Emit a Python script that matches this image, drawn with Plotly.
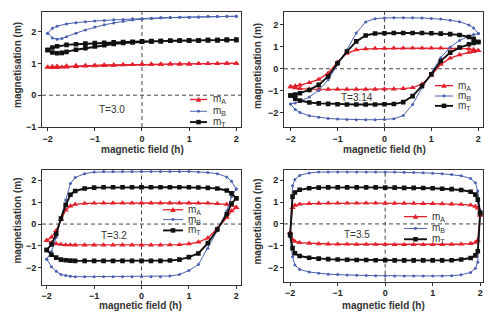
import plotly.graph_objects as go

# Each loop is stored as two field sweeps: "down" runs h = +2 -> -2, "up" runs h = -2 -> +2.

# ---------------- T = 3.0 ----------------
h30_down = [2.0, 1.8, 1.6, 1.4, 1.2, 1.0, 0.8, 0.6, 0.4, 0.2, 0.0, -0.2, -0.4, -0.6, -0.8,
            -1.0, -1.2, -1.4, -1.6, -1.8, -1.9, -2.0]
mA30_down = [1.0, 1.0, 0.99, 0.99, 0.99, 0.98, 0.98, 0.98, 0.97, 0.97, 0.97, 0.96, 0.96, 0.95,
             0.95, 0.94, 0.93, 0.93, 0.92, 0.91, 0.9, 0.88]
mB30_down = [2.48, 2.48, 2.47, 2.47, 2.46, 2.45, 2.45, 2.44, 2.43, 2.42, 2.41, 2.4, 2.38, 2.37,
             2.35, 2.33, 2.31, 2.28, 2.24, 2.17, 2.1, 1.95]
mT30_down = [1.74, 1.74, 1.73, 1.73, 1.72, 1.72, 1.71, 1.71, 1.7, 1.7, 1.69, 1.68, 1.67, 1.66,
             1.65, 1.64, 1.62, 1.6, 1.58, 1.54, 1.5, 1.42]
h30_up = [-2.0, -1.9, -1.8, -1.7, -1.6, -1.4, -1.2, -1.0, -0.8, -0.6, -0.4, -0.2, 0.0, 0.2, 0.4,
          0.6, 0.8, 1.0, 1.2, 1.4, 1.6, 1.8, 2.0]
mA30_up = [0.88, 0.87, 0.87, 0.88, 0.88, 0.9, 0.91, 0.92, 0.93, 0.94, 0.95, 0.96, 0.97, 0.97,
           0.97, 0.98, 0.98, 0.98, 0.99, 0.99, 0.99, 1.0, 1.0]
mB30_up = [1.95, 1.8, 1.76, 1.78, 1.84, 1.95, 2.05, 2.14, 2.21, 2.27, 2.32, 2.36, 2.39, 2.41,
           2.43, 2.44, 2.45, 2.45, 2.46, 2.47, 2.47, 2.48, 2.48]
mT30_up = [1.42, 1.34, 1.32, 1.33, 1.36, 1.43, 1.48, 1.53, 1.57, 1.61, 1.64, 1.66, 1.68, 1.69,
           1.7, 1.71, 1.72, 1.72, 1.72, 1.73, 1.73, 1.74, 1.74]

# ---------------- T = 3.14 ----------------
h314_down = [2.0, 1.9, 1.8, 1.6, 1.4, 1.2, 1.0, 0.8, 0.6, 0.4, 0.2, 0.0, -0.2, -0.4, -0.6, -0.8,
             -1.0, -1.2, -1.4, -1.6, -1.8, -1.9, -2.0]
mA314_down = [0.82, 0.87, 0.9, 0.92, 0.93, 0.93, 0.93, 0.93, 0.93, 0.93, 0.93, 0.92, 0.92, 0.9,
              0.86, 0.7, 0.3, -0.2, -0.48, -0.63, -0.74, -0.78, -0.82]
mB314_down = [1.6, 1.85, 1.98, 2.13, 2.2, 2.25, 2.28, 2.3, 2.31, 2.31, 2.31, 2.3, 2.27, 2.12,
              1.62, 0.85, 0.2, -0.5, -0.98, -1.28, -1.48, -1.55, -1.6]
mT314_down = [1.21, 1.36, 1.44, 1.53, 1.57, 1.59, 1.61, 1.62, 1.62, 1.62, 1.62, 1.61, 1.6, 1.51,
              1.24, 0.78, 0.25, -0.35, -0.73, -0.96, -1.11, -1.17, -1.21]
h314_up = [-2.0, -1.9, -1.8, -1.6, -1.4, -1.2, -1.0, -0.8, -0.6, -0.4, -0.2, 0.0, 0.2, 0.4, 0.6,
           0.8, 1.0, 1.2, 1.4, 1.6, 1.8, 1.9, 2.0]
mA314_up = [-0.82, -0.87, -0.9, -0.92, -0.93, -0.93, -0.93, -0.93, -0.93, -0.93, -0.93, -0.92,
            -0.92, -0.9, -0.86, -0.7, -0.3, 0.2, 0.48, 0.63, 0.74, 0.78, 0.82]
mB314_up = [-1.6, -1.85, -1.98, -2.13, -2.2, -2.25, -2.28, -2.3, -2.31, -2.31, -2.31, -2.3,
            -2.27, -2.12, -1.62, -0.85, -0.2, 0.5, 0.98, 1.28, 1.48, 1.55, 1.6]
mT314_up = [-1.21, -1.36, -1.44, -1.53, -1.57, -1.59, -1.61, -1.62, -1.62, -1.62, -1.62, -1.61,
            -1.6, -1.51, -1.24, -0.78, -0.25, 0.35, 0.73, 0.96, 1.11, 1.17, 1.21]

# ---------------- T = 3.2 ----------------
h32_down = [2.0, 1.9, 1.8, 1.6, 1.4, 1.2, 1.0, 0.8, 0.6, 0.4, 0.2, 0.0, -0.2, -0.4, -0.6, -0.8,
            -1.0, -1.2, -1.4, -1.5, -1.6, -1.7, -1.8, -1.9, -2.0]
mA32_down = [0.75, 0.85, 0.9, 0.93, 0.95, 0.95, 0.96, 0.96, 0.96, 0.96, 0.96, 0.96, 0.96, 0.96,
             0.96, 0.96, 0.95, 0.94, 0.9, 0.82, 0.64, 0.2, -0.3, -0.6, -0.75]
mB32_down = [1.6, 1.95, 2.15, 2.3, 2.35, 2.38, 2.4, 2.4, 2.4, 2.4, 2.4, 2.4, 2.4, 2.4, 2.4, 2.4,
             2.37, 2.3, 2.12, 1.85, 1.1, 0.3, -0.6, -1.25, -1.6]
mT32_down = [1.18, 1.4, 1.53, 1.62, 1.65, 1.67, 1.68, 1.68, 1.68, 1.68, 1.68, 1.68, 1.68, 1.68,
             1.68, 1.68, 1.66, 1.62, 1.51, 1.34, 0.87, 0.25, -0.45, -0.93, -1.18]
h32_up = [-2.0, -1.9, -1.8, -1.7, -1.6, -1.5, -1.4, -1.2, -1.0, -0.8, -0.6, -0.4, -0.2, 0.0, 0.2,
          0.4, 0.6, 0.8, 1.0, 1.2, 1.4, 1.6, 1.8, 1.9, 2.0]
mA32_up = [-0.75, -0.85, -0.9, -0.93, -0.95, -0.95, -0.96, -0.96, -0.96, -0.96, -0.96, -0.96,
           -0.96, -0.96, -0.96, -0.96, -0.95, -0.94, -0.9, -0.82, -0.64, -0.2, 0.3, 0.6, 0.75]
mB32_up = [-1.6, -1.95, -2.15, -2.3, -2.35, -2.38, -2.4, -2.4, -2.4, -2.4, -2.4, -2.4, -2.4,
           -2.4, -2.4, -2.4, -2.37, -2.3, -2.12, -1.85, -1.1, -0.3, 0.6, 1.25, 1.6]
mT32_up = [-1.18, -1.4, -1.53, -1.62, -1.65, -1.67, -1.68, -1.68, -1.68, -1.68, -1.68, -1.68,
           -1.68, -1.68, -1.68, -1.68, -1.66, -1.62, -1.51, -1.34, -0.87, -0.25, 0.45, 0.93, 1.18]

# ---------------- T = 3.5 ----------------
h35_down = [2.0, 1.95, 1.9, 1.8, 1.6, 1.4, 1.2, 1.0, 0.8, 0.6, 0.4, 0.2, 0.0, -0.2, -0.4, -0.6,
            -0.8, -1.0, -1.2, -1.4, -1.6, -1.8, -1.9, -1.95, -2.0]
mA35_down = [0.4, 0.72, 0.8, 0.86, 0.89, 0.91, 0.92, 0.93, 0.93, 0.94, 0.94, 0.94, 0.94, 0.95,
             0.95, 0.95, 0.95, 0.95, 0.95, 0.94, 0.93, 0.9, 0.85, 0.75, -0.4]
mB35_down = [0.6, 1.5, 1.88, 2.08, 2.2, 2.26, 2.3, 2.32, 2.34, 2.35, 2.36, 2.37, 2.37, 2.38,
             2.38, 2.38, 2.38, 2.38, 2.38, 2.37, 2.33, 2.22, 2.03, 1.75, -0.6]
mT35_down = [0.5, 1.11, 1.34, 1.47, 1.55, 1.59, 1.61, 1.63, 1.64, 1.65, 1.65, 1.66, 1.66, 1.67,
             1.67, 1.67, 1.67, 1.67, 1.67, 1.66, 1.63, 1.56, 1.44, 1.25, -0.5]
h35_up = [-2.0, -1.95, -1.9, -1.8, -1.6, -1.4, -1.2, -1.0, -0.8, -0.6, -0.4, -0.2, 0.0, 0.2, 0.4,
          0.6, 0.8, 1.0, 1.2, 1.4, 1.6, 1.8, 1.9, 1.95, 2.0]
mA35_up = [-0.4, -0.72, -0.8, -0.86, -0.89, -0.91, -0.92, -0.93, -0.93, -0.94, -0.94, -0.94,
           -0.94, -0.95, -0.95, -0.95, -0.95, -0.95, -0.95, -0.94, -0.93, -0.9, -0.85, -0.75, 0.4]
mB35_up = [-0.6, -1.5, -1.88, -2.08, -2.2, -2.26, -2.3, -2.32, -2.34, -2.35, -2.36, -2.37,
           -2.37, -2.38, -2.38, -2.38, -2.38, -2.38, -2.38, -2.37, -2.33, -2.22, -2.03, -1.75, 0.6]
mT35_up = [-0.5, -1.11, -1.34, -1.47, -1.55, -1.59, -1.61, -1.63, -1.64, -1.65, -1.65, -1.66,
           -1.66, -1.67, -1.67, -1.67, -1.67, -1.67, -1.67, -1.66, -1.63, -1.56, -1.44, -1.25, 0.5]

temperature_labels = ["T=3.0", "T=3.14", "T=3.2", "T=3.5"]
series_names = ["m<sub>A</sub>", "m<sub>B</sub>", "m<sub>T</sub>"]
x_ticks = [-2, -1, 0, 1, 2]
y_ticks_first = [-1, 0, 1, 2]
y_ticks_other = [-2, -1, 0, 1, 2]

panels = [
    dict(h=(h30_down, h30_up), m=((mA30_down, mA30_up), (mB30_down, mB30_up), (mT30_down, mT30_up))),
    dict(h=(h314_down, h314_up), m=((mA314_down, mA314_up), (mB314_down, mB314_up), (mT314_down, mT314_up))),
    dict(h=(h32_down, h32_up), m=((mA32_down, mA32_up), (mB32_down, mB32_up), (mT32_down, mT32_up))),
    dict(h=(h35_down, h35_up), m=((mA35_down, mA35_up), (mB35_down, mB35_up), (mT35_down, mT35_up))),
]

# ---------------- styling / layout ----------------
W, H = 500, 326
FONT = "Arial, 'Liberation Sans', sans-serif"
RED, BLUE, BLACK = "#e3202b", "#4a62b0", "#111111"
styles = [
    dict(color=RED, width=1.3, symbol="triangle-up", size=5.5),
    dict(color=BLUE, width=1.0, symbol="circle", size=3),
    dict(color=BLACK, width=1.9, symbol="square", size=4.6),
]

def fx(p):
    return p / W

def fy(p):
    return 1 - p / H

# plot boxes in pixels: (left, right, top, bottom)
boxes = [(42, 241, 12, 129), (284, 483, 12, 129), (42, 241, 173, 289), (284, 483, 173, 286)]
x_ranges = [[-2.12, 2.1], [-2.14, 2.1], [-2.1, 2.1], [-2.13, 2.06]]
y_ranges = [[-1.0, 2.62], [-2.64, 2.58], [-2.76, 2.45], [-2.64, 2.45]]
xtitle_pos = [(142, 152), (384, 152), (140, 310), (383, 310)]
ytitle_pos = [(18, 66), (258, 67), (18, 224), (258, 225)]
tlabel_pos = [(112, 111), (357, 99), (114, 239), (357, 238)]
legend_spots = [
    dict(x0=190, x1=207, xt=211, rows=[101, 113, 124]),
    dict(x0=435, x1=453, xt=456, rows=[87, 97.5, 107.5]),
    dict(x0=163, x1=183, xt=186, rows=[213, 223, 234]),
    dict(x0=404, x1=427, xt=430, rows=[220, 232, 243]),
]

fig = go.Figure()
layout = dict(
    width=W, height=H, margin=dict(l=0, r=0, t=0, b=0),
    paper_bgcolor="white", plot_bgcolor="white", showlegend=False,
    font=dict(family=FONT, color="#222"),
)
shapes, annotations = [], []

for i, panel in enumerate(panels):
    n = "" if i == 0 else str(i + 1)
    xa, ya = "x" + n, "y" + n
    h_down, h_up = panel["h"]
    for (m_down, m_up), st, name in zip(panel["m"], styles, series_names):
        fig.add_trace(go.Scatter(
            x=h_down + h_up, y=m_down + m_up, mode="lines+markers", name=name,
            xaxis=xa, yaxis=ya,
            line=dict(color=st["color"], width=st["width"]),
            marker=dict(symbol=st["symbol"], size=st["size"], color=st["color"], line=dict(width=0)),
        ))
    left, right, top, bottom = boxes[i]
    axis_common = dict(
        showline=True, mirror=True, linecolor="#333", linewidth=1,
        ticks="outside", ticklen=3, tickcolor="#333", tickwidth=1,
        showgrid=False, zeroline=False,
        tickfont=dict(family=FONT, size=9, color="#222", weight="bold"),
    )
    layout["xaxis" + n] = dict(axis_common, domain=[fx(left), fx(right)], range=x_ranges[i],
                               tickvals=x_ticks, anchor=ya)
    layout["yaxis" + n] = dict(axis_common, domain=[fy(bottom), fy(top)], range=y_ranges[i],
                               tickvals=y_ticks_first if i == 0 else y_ticks_other, anchor=xa)

    # dashed guide lines through the origin
    dash = dict(color="#444", width=1, dash="4px,3px")
    shapes.append(dict(type="line", xref=xa, yref=ya + " domain", x0=0, x1=0, y0=0, y1=1,
                       line=dash, layer="below"))
    shapes.append(dict(type="line", xref=xa + " domain", yref=ya, x0=0, x1=1, y0=0, y1=0,
                       line=dash, layer="below"))

    # axis titles and temperature label
    annotations.append(dict(text="<b>magnetic field (h)</b>", xref="paper", yref="paper",
                            x=fx(xtitle_pos[i][0]), y=fy(xtitle_pos[i][1]), showarrow=False,
                            xanchor="center", yanchor="middle",
                            font=dict(family=FONT, size=10, color="#333")))
    annotations.append(dict(text="<b>magnetisation (m)</b>", xref="paper", yref="paper",
                            x=fx(ytitle_pos[i][0]), y=fy(ytitle_pos[i][1]), showarrow=False,
                            textangle=-90, xanchor="center", yanchor="middle",
                            font=dict(family=FONT, size=10, color="#333")))
    annotations.append(dict(text=temperature_labels[i], xref="paper", yref="paper",
                            x=fx(tlabel_pos[i][0]), y=fy(tlabel_pos[i][1]), showarrow=False,
                            xanchor="center", yanchor="middle",
                            font=dict(family=FONT, size=10, color="#333")))

    # legend keys
    spot = legend_spots[i]
    for st, name, row in zip(styles, series_names, spot["rows"]):
        shapes.append(dict(type="line", xref="paper", yref="paper",
                           x0=fx(spot["x0"]), x1=fx(spot["x1"]), y0=fy(row), y1=fy(row),
                           line=dict(color=st["color"], width=st["width"])))
        cx = (spot["x0"] + spot["x1"]) / 2
        if st["symbol"] == "triangle-up":
            path = "M {:.4f},{:.4f} L {:.4f},{:.4f} L {:.4f},{:.4f} Z".format(
                fx(cx - 2.8), fy(row + 2.2), fx(cx + 2.8), fy(row + 2.2), fx(cx), fy(row - 2.8))
            shapes.append(dict(type="path", xref="paper", yref="paper", path=path,
                               fillcolor=st["color"], line=dict(width=0)))
        elif st["symbol"] == "square":
            shapes.append(dict(type="rect", xref="paper", yref="paper",
                               x0=fx(cx - 2.3), x1=fx(cx + 2.3), y0=fy(row + 2.3), y1=fy(row - 2.3),
                               fillcolor=st["color"], line=dict(width=0)))
        else:
            shapes.append(dict(type="circle", xref="paper", yref="paper",
                               x0=fx(cx - 1.5), x1=fx(cx + 1.5), y0=fy(row + 1.5), y1=fy(row - 1.5),
                               fillcolor=st["color"], line=dict(width=0)))
        annotations.append(dict(text=name, xref="paper", yref="paper",
                                x=fx(spot["xt"]), y=fy(row), showarrow=False,
                                xanchor="left", yanchor="middle",
                                font=dict(family=FONT, size=10, color="#333")))

layout["shapes"] = shapes
layout["annotations"] = annotations
fig.update_layout(**layout)
fig.write_html("out.html")
